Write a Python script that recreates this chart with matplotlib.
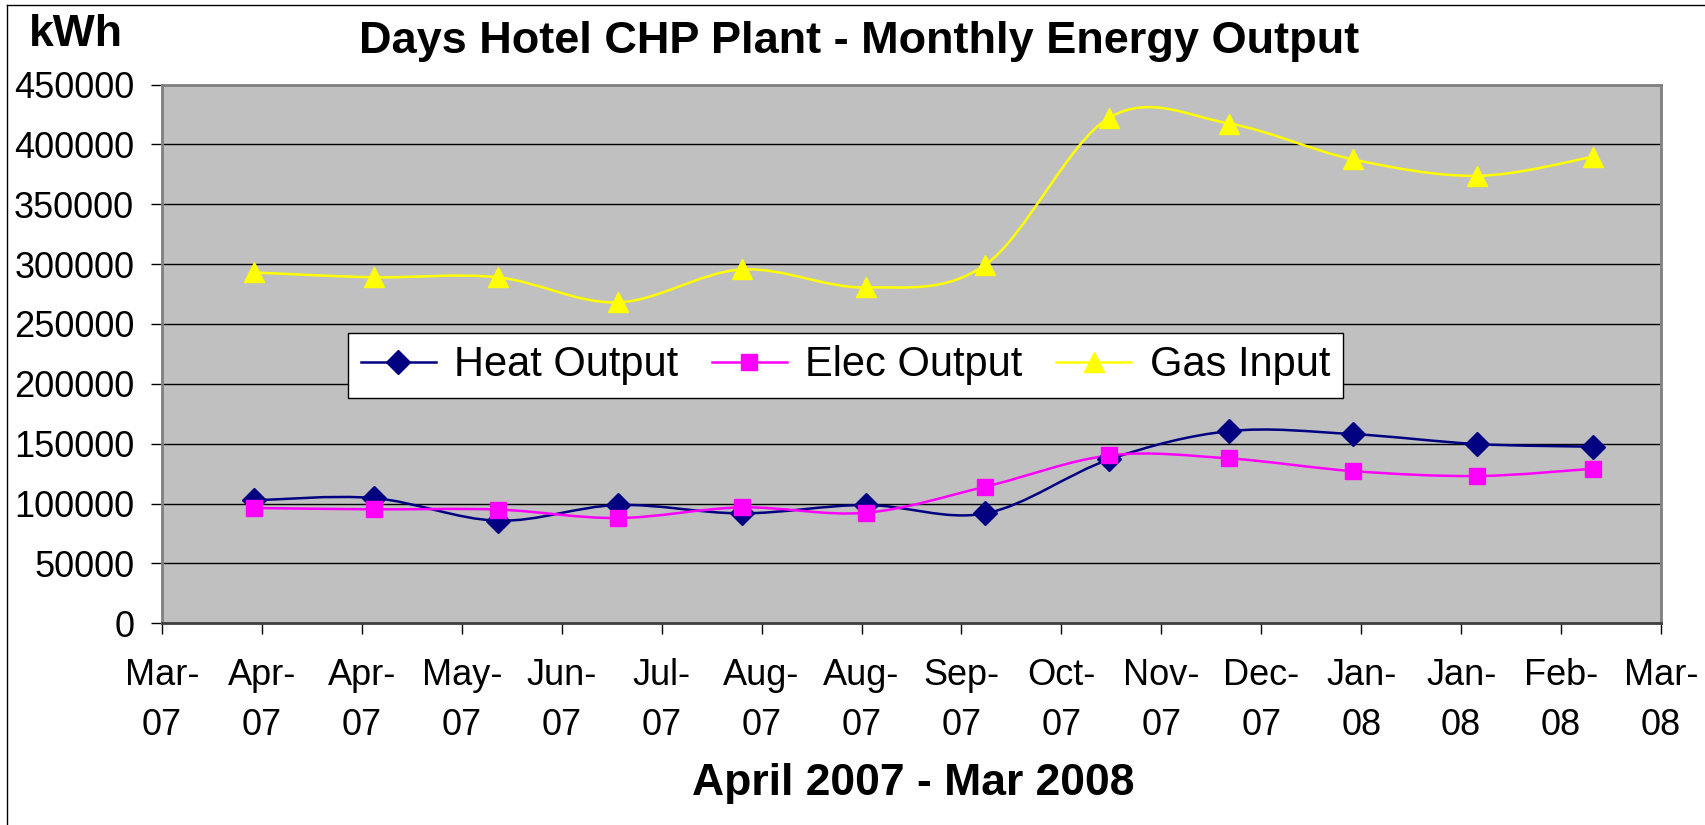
import numpy as np
import pandas as pd
import matplotlib
matplotlib.use('Agg')
import matplotlib.pyplot as plt
import matplotlib.dates as mdates
from matplotlib.path import Path
from matplotlib.patches import PathPatch
from matplotlib.lines import Line2D
from matplotlib.ticker import FuncFormatter

plt.rcParams['font.family'] = ['Liberation Sans', 'DejaVu Sans']

# Monthly readings, Apr 2007 - Mar 2008 (kWh)
months = pd.date_range('2007-04-01', periods=12, freq='MS')
heat_output = [102700, 104600, 85700, 98800, 91800, 98800, 91800, 136900, 160500, 158000, 149700, 147500]
elec_output = [96300, 95200, 95000, 87900, 96800, 92300, 114100, 140200, 137700, 127100, 123000, 129100]
gas_input = [293000, 289000, 289000, 268000, 295500, 280500, 299500, 422400, 417400, 387400, 373700, 389600]

# Excel date axis: major unit 25 days
tick_dates = pd.date_range('2007-03-09', periods=16, freq='25D')
tick_labels = ['Mar-\n07', 'Apr-\n07', 'Apr-\n07', 'May-\n07', 'Jun-\n07', 'Jul-\n07',
               'Aug-\n07', 'Aug-\n07', 'Sep-\n07', 'Oct-\n07', 'Nov-\n07', 'Dec-\n07',
               'Jan-\n08', 'Jan-\n08', 'Feb-\n08', 'Mar-\n08']

series = [
    ('Heat Output', heat_output, '#000080', 'D', 12.5),
    ('Elec Output', elec_output, '#FF00FF', 's', 12),
    ('Gas Input', gas_input, '#FFFF00', '^', 14.5),
]


def smooth_path(x, y):
    # Excel style smoothed line: cubic bezier through every point
    pts = np.column_stack([x, y]).astype(float)
    ext = np.vstack([pts[0], pts, pts[-1]])
    verts = [pts[0]]
    codes = [Path.MOVETO]
    for i in range(len(pts) - 1):
        p0, p1, p2, p3 = ext[i], ext[i + 1], ext[i + 2], ext[i + 3]
        verts += [p1 + (p2 - p0) / 6, p2 - (p3 - p1) / 6, p2]
        codes += [Path.CURVE4] * 3
    return Path(verts, codes)


fig = plt.figure(figsize=(17.05, 8.25), dpi=100)
ax = fig.add_axes([162 / 1705, 1 - 623.3 / 825, (1661 - 162) / 1705, (623.3 - 84.5) / 825])
ax.set_facecolor('#C0C0C0')

x = mdates.date2num(months)
handles = []
for name, vals, color, marker, ms in series:
    ax.add_patch(PathPatch(smooth_path(x, vals), fill=False, edgecolor=color, lw=1.8, zorder=3))
    ax.plot(months, vals, ls='none', marker=marker, ms=ms, color=color, mec=color, zorder=4)
    handles.append(Line2D([], [], color=color, lw=1.8, marker=marker, ms=ms, mec=color, label=name))

ax.set_xlim(tick_dates[0], tick_dates[-1])
ax.set_ylim(0, 450000)
ax.set_yticks(np.arange(0, 450001, 50000))
ax.yaxis.set_major_formatter(FuncFormatter(lambda v, p: f'{int(v)}'))
ax.set_xticks(tick_dates)
ax.set_xticklabels(tick_labels, linespacing=1.55)

ax.tick_params(axis='y', labelsize=26, length=8, width=1, pad=12)
ax.tick_params(axis='x', labelsize=26, length=8, width=1, pad=17)
ax.grid(axis='y', color='black', lw=1)
ax.set_axisbelow(True)

for side in ['top', 'right', 'left']:
    ax.spines[side].set_color('#808080')
    ax.spines[side].set_linewidth(2)
ax.spines['bottom'].set_color('#404040')
ax.spines['bottom'].set_linewidth(2)

leg = ax.legend(handles=handles, ncol=3, loc='upper left',
                bbox_to_anchor=(348 / 1705, 1 - 333 / 825), bbox_transform=fig.transFigure,
                fontsize=30, frameon=True, fancybox=False, framealpha=1,
                edgecolor='black', handlelength=1.8, handletextpad=0.45,
                columnspacing=0.8, borderpad=0.3, borderaxespad=0)
leg.get_frame().set_linewidth(1)
leg.set_zorder(5)

fig.text(859 / 1705, 1 - 41 / 825, 'Days Hotel CHP Plant - Monthly Energy Output',
         fontsize=32.5, fontweight='bold', ha='center', va='center')
fig.text(76 / 1705, 1 - 35 / 825, 'kWh', fontsize=32, fontweight='bold', ha='center', va='center')
fig.text(913 / 1705, 1 - 783 / 825, 'April 2007 - Mar 2008', fontsize=32, fontweight='bold',
         ha='center', va='center')

# outer chart border
fig.add_artist(Line2D([7 / 1705, 7 / 1705], [0, 1 - 5 / 825], transform=fig.transFigure, color='black', lw=1))
fig.add_artist(Line2D([7 / 1705, 1], [1 - 5 / 825, 1 - 5 / 825], transform=fig.transFigure, color='black', lw=1))

fig.savefig('out.png', dpi=100)
